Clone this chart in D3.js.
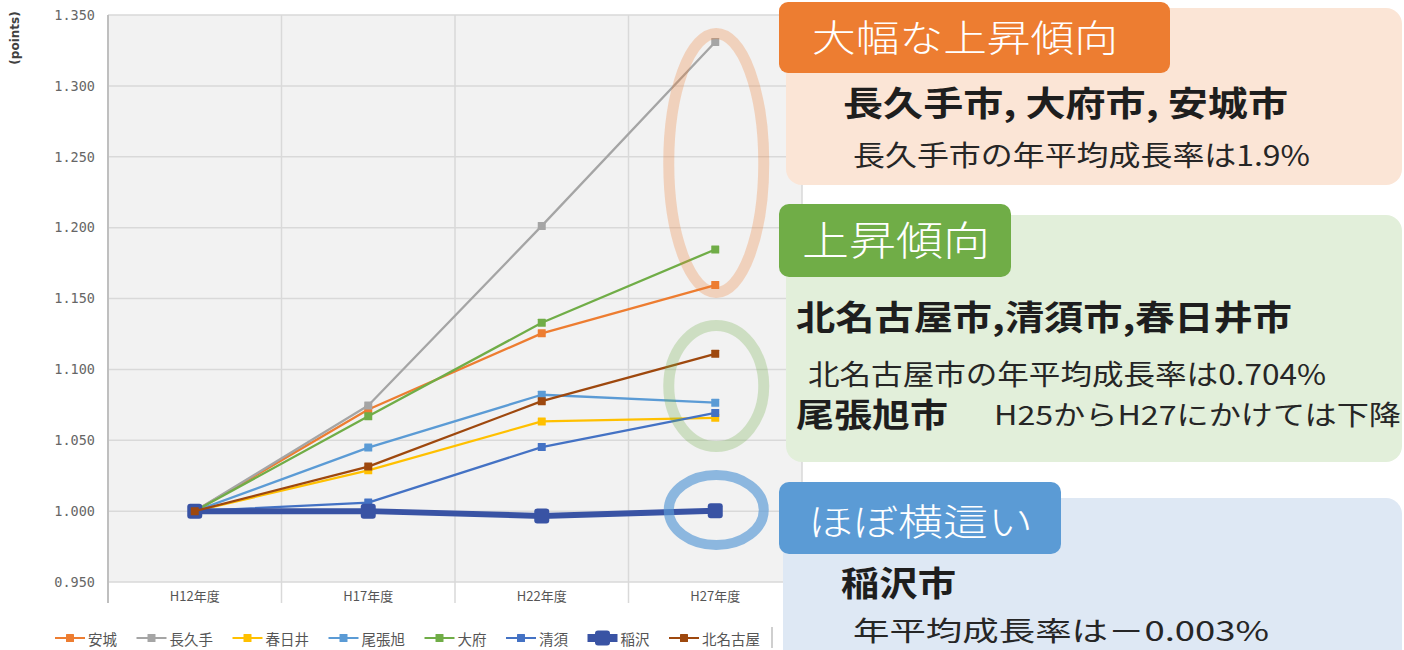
<!DOCTYPE html>
<html><head><meta charset="utf-8">
<script src="https://cdn.jsdelivr.net/npm/d3@7"></script>
<style>body{margin:0;background:#fff}svg{display:block}</style>
</head><body>
<svg id="c" width="1404" height="650"></svg>
<script>
// ---- data ----
const categories = ["H12年度", "H17年度", "H22年度", "H27年度"];
const yTicks = [0.95, 1.0, 1.05, 1.1, 1.15, 1.2, 1.25, 1.3, 1.35];
const seriesNames = ["安城", "長久手", "春日井", "尾張旭", "大府", "清須", "稲沢", "北名古屋"];
const seriesColors = ["#ED7D31", "#A5A5A5", "#FFC000", "#5B9BD5", "#70AD47", "#4472C4", "#3953A4", "#9E480E"];
const anjo      = [1.000, 1.0717, 1.1254, 1.1595];
const nagakute  = [1.000, 1.0745, 1.2012, 1.3310];
const kasugai   = [1.000, 1.0288, 1.0633, 1.0658];
const owariasahi= [1.000, 1.0448, 1.0821, 1.0765];
const obu       = [1.000, 1.0669, 1.1329, 1.1846];
const kiyosu    = [1.000, 1.0060, 1.0452, 1.0693];
const inazawa   = [1.000, 1.0000, 0.9966, 1.0003];
const kitanagoya= [1.000, 1.0314, 1.0776, 1.1110];
const seriesValues = [anjo, nagakute, kasugai, owariasahi, obu, kiyosu, inazawa, kitanagoya];
const thickSeries = "稲沢";
const yLabel = "(points)";

const headerTexts = ["大幅な上昇傾向", "上昇傾向", "ほぼ横這い"];
const boldTexts = ["長久手市, 大府市, 安城市", "北名古屋市,清須市,春日井市", "尾張旭市", "稲沢市"];
const subTexts = ["長久手市の年平均成長率は1.9%", "北名古屋市の年平均成長率は0.704%", "H25からH27にかけては下降", "年平均成長率は－0.003%"];

// ---- drawing ----
const svg = d3.select("#c");
const plot = {left: 108, right: 802, top: 15, bottom: 582};
const x = d3.scaleBand().domain(categories).range([plot.left, plot.right]);
const y = d3.scaleLinear().domain([0.95, 1.35]).range([plot.bottom, plot.top]);
const cx = c => x(c) + x.bandwidth() / 2;

svg.append("rect").attr("x", plot.left).attr("y", plot.top)
  .attr("width", plot.right - plot.left).attr("height", plot.bottom - plot.top)
  .attr("fill", "#f2f2f2");

// horizontal grid
svg.append("g").selectAll("line").data(yTicks).join("line")
  .attr("x1", plot.left).attr("x2", plot.right)
  .attr("y1", d => y(d)).attr("y2", d => y(d))
  .attr("stroke", "#d9d9d9").attr("stroke-width", 1.5);
// vertical grid / category separators
const seps = categories.slice(1).map(c => x(c)).concat([plot.right]);
svg.append("g").selectAll("line").data(seps).join("line")
  .attr("x1", d => d).attr("x2", d => d)
  .attr("y1", plot.top).attr("y2", 603)
  .attr("stroke", "#d9d9d9").attr("stroke-width", 1.5);
svg.append("line").attr("x1", plot.left).attr("x2", plot.left)
  .attr("y1", plot.top).attr("y2", 603).attr("stroke", "#bfbfbf").attr("stroke-width", 2);

// axes
const yAxis = svg.append("g").attr("transform", `translate(${plot.left},0)`)
  .call(d3.axisLeft(y).tickValues(yTicks).tickFormat(d3.format(".3f")).tickSize(0).tickPadding(13));
yAxis.select(".domain").remove();
yAxis.selectAll("text").attr("font-family", "'DejaVu Sans Mono', monospace").attr("font-size", 13.5).attr("fill", "#666");

const xAxis = svg.append("g").attr("transform", `translate(0,${plot.bottom})`)
  .call(d3.axisBottom(x).tickSize(0).tickPadding(10));
xAxis.select(".domain").remove();
xAxis.selectAll("text").attr("font-family", "'Noto Sans CJK JP', sans-serif").attr("font-size", 13).attr("fill", "#555");

svg.append("text").attr("transform", "translate(15,38) rotate(-90)")
  .attr("text-anchor", "middle").attr("dominant-baseline", "central")
  .attr("font-family", "'DejaVu Sans', sans-serif").attr("font-weight", "bold").attr("font-size", 12)
  .attr("fill", "#404040").text(yLabel);

// series
const series = seriesNames.map((n, i) => ({name: n, color: seriesColors[i], values: seriesValues[i]}));
const line = d3.line().x((d, i) => cx(categories[i])).y(d => y(d));
series.forEach(s => {
  const thick = s.name === thickSeries;
  const g = svg.append("g");
  g.append("path").attr("d", line(s.values)).attr("fill", "none")
    .attr("stroke", s.color).attr("stroke-width", thick ? 6 : 2.3).attr("stroke-linejoin", "round");
  const m = thick ? 15 : 8;
  g.selectAll("rect").data(s.values).join("rect")
    .attr("x", (d, i) => cx(categories[i]) - m / 2).attr("y", d => y(d) - m / 2)
    .attr("width", m).attr("height", m).attr("rx", thick ? 3 : 0.5)
    .attr("fill", s.color);
});

// legend
const leg = svg.append("g").attr("transform", "translate(0,638)");
let lx = 55;
series.forEach(s => {
  const thick = s.name === thickSeries;
  leg.append("line").attr("x1", lx).attr("x2", lx + 30).attr("y1", 0).attr("y2", 0)
    .attr("stroke", s.color).attr("stroke-width", thick ? 8 : 2);
  const m = thick ? 15 : 8;
  leg.append("rect").attr("x", lx + 15 - m / 2).attr("y", -m / 2).attr("width", m).attr("height", m)
    .attr("rx", thick ? 3 : 0.5).attr("fill", s.color);
  const t = leg.append("text").attr("x", lx + 33).attr("y", 0).attr("dominant-baseline", "central")
    .attr("font-family", "'Noto Sans CJK JP', sans-serif").attr("font-size", 14.5).attr("fill", "#555").text(s.name);
  lx += 33 + t.node().getComputedTextLength() + 19.5;
});
svg.append("line").attr("x1", 772).attr("x2", 772).attr("y1", 627).attr("y2", 648)
  .attr("stroke", "#bfbfbf").attr("stroke-width", 1.5);

// ellipses highlighting H27
const ex = cx(categories[3]) + 1;
svg.append("ellipse").attr("cx", ex).attr("cy", 163).attr("rx", 47.5).attr("ry", 129.5)
  .attr("fill", "none").attr("stroke", "#ED7D31").attr("stroke-opacity", 0.28).attr("stroke-width", 11);
svg.append("ellipse").attr("cx", ex).attr("cy", 386).attr("rx", 47.5).attr("ry", 60.5)
  .attr("fill", "none").attr("stroke", "#70AD47").attr("stroke-opacity", 0.28).attr("stroke-width", 11);
svg.append("ellipse").attr("cx", ex).attr("cy", 510).attr("rx", 47.5).attr("ry", 35)
  .attr("fill", "none").attr("stroke", "#5B9BD5").attr("stroke-opacity", 0.68).attr("stroke-width", 10);

// annotation boxes
function box(x0, y0, x1, y1, r, fill) {
  svg.append("rect").attr("x", x0).attr("y", y0).attr("width", x1 - x0).attr("height", y1 - y0)
    .attr("rx", r).attr("fill", fill);
}
function txt(s, x0, yc, size, weight, fill, len) {
  svg.append("text").attr("x", x0).attr("y", yc).attr("dominant-baseline", "central")
    .attr("font-family", "'Noto Sans CJK JP', sans-serif").attr("font-size", size)
    .attr("font-weight", weight).attr("fill", fill)
    .attr("textLength", len).attr("lengthAdjust", "spacingAndGlyphs").text(s);
}
box(786, 8, 1402, 185, 16, "#FBE5D6");
box(779, 2, 1170, 73, 9, "#ED7D31");
txt(headerTexts[0], 812, 36, 37, 300, "#fff", 306);
txt(boldTexts[0], 843, 101, 34, "bold", "#1e1e1e", 445);
txt(subTexts[0], 853, 154, 28, "normal", "#262626", 457);

box(786, 215, 1402, 462, 16, "#E2EFDA");
box(779, 204, 1011, 277, 10, "#70AD47");
txt(headerTexts[1], 802, 238, 40, 300, "#fff", 188);
txt(boldTexts[1], 796, 315, 34, "bold", "#1e1e1e", 496);
txt(subTexts[1], 808, 373, 28, "normal", "#262626", 518);
txt(boldTexts[2], 796, 413, 33, "bold", "#1e1e1e", 152);
txt(subTexts[2], 994, 413, 27, "normal", "#262626", 407);

box(783, 498, 1402, 680, 16, "#DEE8F4");
box(779, 482, 1061, 554, 10, "#5B9BD5");
txt(headerTexts[2], 808, 520, 37, 300, "#fff", 225);
txt(boldTexts[3], 841, 581, 34, "bold", "#1e1e1e", 115);
txt(subTexts[3], 853, 629, 27, "normal", "#262626", 416);
</script>
</body></html>
